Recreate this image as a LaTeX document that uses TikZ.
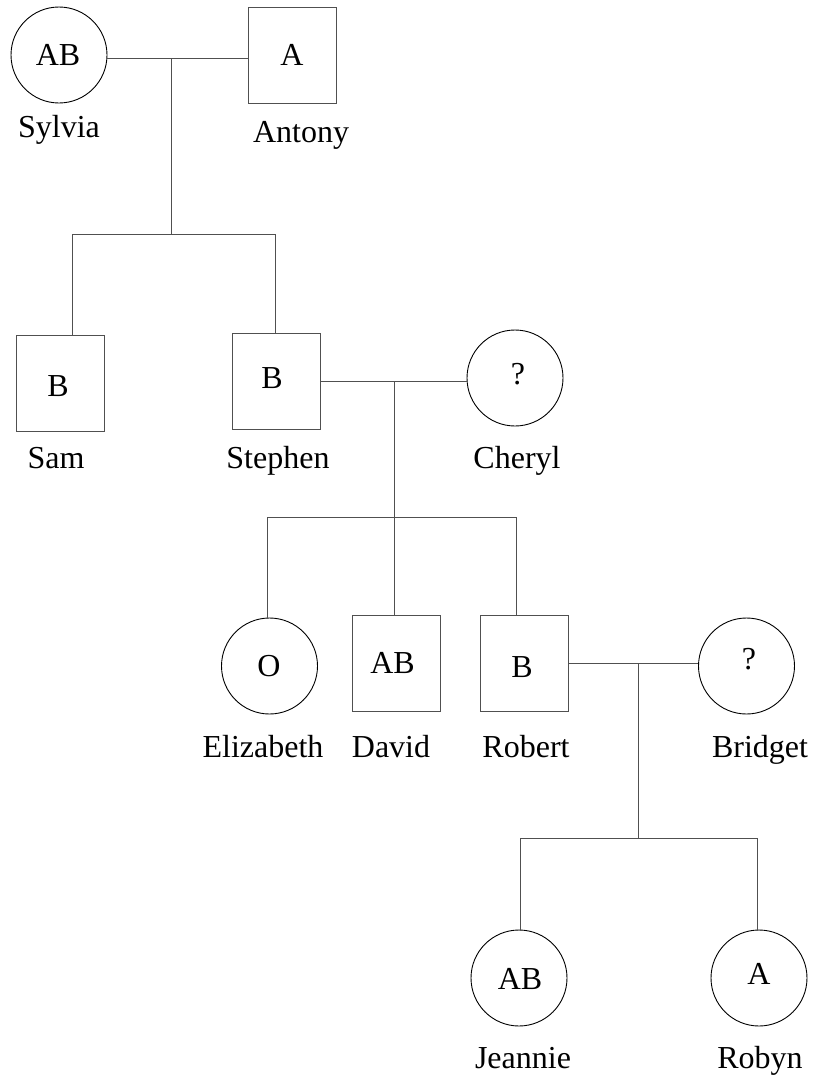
\documentclass[tikz,border=0pt]{standalone}
\usepackage{fontspec}
\setmainfont{Liberation Serif}
\definecolor{lc}{RGB}{80,80,80}
\tikzset{
  ln/.style={draw=lc, line width=1pt},
  fem/.style={circle, draw=black, line width=0.9pt, minimum size=96pt, inner sep=0pt},
  mal/.style={rectangle, draw=lc, line width=1pt, minimum width=88pt, minimum height=96pt, inner sep=0pt},
  txt/.style={anchor=base, inner sep=0pt, font=\fontsize{32}{38}\selectfont},
}
\begin{document}
\begin{tikzpicture}[x=1pt,y=-1pt]
\useasboundingbox (0,0) rectangle (813,1076);
\fill[white] (0,0) rectangle (813,1076);

% persons
\node[fem] (sylvia) at (59,55) {};
\node[mal] (antony) at (292,55) {};
\node[mal] (sam) at (60,383.5) {};
\node[mal] (stephen) at (276.5,381) {};
\node[fem] (cheryl) at (515,378) {};
\node[fem] (elizabeth) at (269.5,666) {};
\node[mal] (david) at (396,663.5) {};
\node[mal] (robert) at (524,663.5) {};
\node[fem] (bridget) at (746.5,666) {};
\node[fem] (jeannie) at (519,978) {};
\node[fem] (robyn) at (759,978) {};

% blood groups
\node[txt] (tsylvia) at (58,65) {AB};
\node[txt] (tantony) at (292,65) {A};
\node[txt] (tsam) at (58,396) {B};
\node[txt] (tstephen) at (272,388) {B};
\node[txt] (tcheryl) at (518,384) {?};
\node[txt] (telizabeth) at (269,676) {O};
\node[txt] (tdavid) at (392.5,673) {AB};
\node[txt] (trobert) at (522,677) {B};
\node[txt] (tbridget) at (749,669) {?};
\node[txt] (tjeannie) at (520,989) {AB};
\node[txt] (trobyn) at (759,984) {A};

% names
\node[txt] (nsylvia) at (59,137) {Sylvia};
\node[txt] (nantony) at (301,142) {Antony};
\node[txt] (nsam) at (56,468) {Sam};
\node[txt] (nstephen) at (278,468) {Stephen};
\node[txt] (ncheryl) at (517,468) {Cheryl};
\node[txt] (nelizabeth) at (263,757) {Elizabeth};
\node[txt] (ndavid) at (391,757) {David};
\node[txt] (nrobert) at (526,757) {Robert};
\node[txt] (nbridget) at (760,757) {Bridget};
\node[txt] (njeannie) at (523,1068) {Jeannie};
\node[txt] (nrobyn) at (760,1068) {Robyn};

% generation 1
\coordinate (m1) at (171,58);
\coordinate (c1) at (171,234);
\coordinate (c1a) at (72,234);
\coordinate (c1b) at (275,234);
\draw[ln] (m1 -| sylvia.east) -- (m1 -| antony.west);
\draw[ln] (m1) -- (c1);
\draw[ln] (c1a) -- (c1b);
\draw[ln] (c1a) -- (c1a |- sam.north);
\draw[ln] (c1b) -- (c1b |- stephen.north);

% generation 2
\coordinate (m2) at (394,381);
\coordinate (c2a) at (267,517);
\coordinate (c2b) at (516,517);
\draw[ln] (m2 -| stephen.east) -- (m2 -| cheryl.west);
\draw[ln] (m2) -- (m2 |- david.north);
\draw[ln] (c2a) -- (c2b);
\draw[ln] (c2a) -- (c2a |- elizabeth.north);
\draw[ln] (c2b) -- (c2b |- robert.north);

% generation 3
\coordinate (m3) at (638,663);
\coordinate (c3) at (638,838);
\coordinate (c3a) at (520,838);
\coordinate (c3b) at (757,838);
\draw[ln] (m3 -| robert.east) -- (m3 -| bridget.west);
\draw[ln] (m3) -- (c3);
\draw[ln] (c3a) -- (c3b);
\draw[ln] (c3a) -- (c3a |- jeannie.north);
\draw[ln] (c3b) -- (c3b |- robyn.north);
\end{tikzpicture}
\end{document}
